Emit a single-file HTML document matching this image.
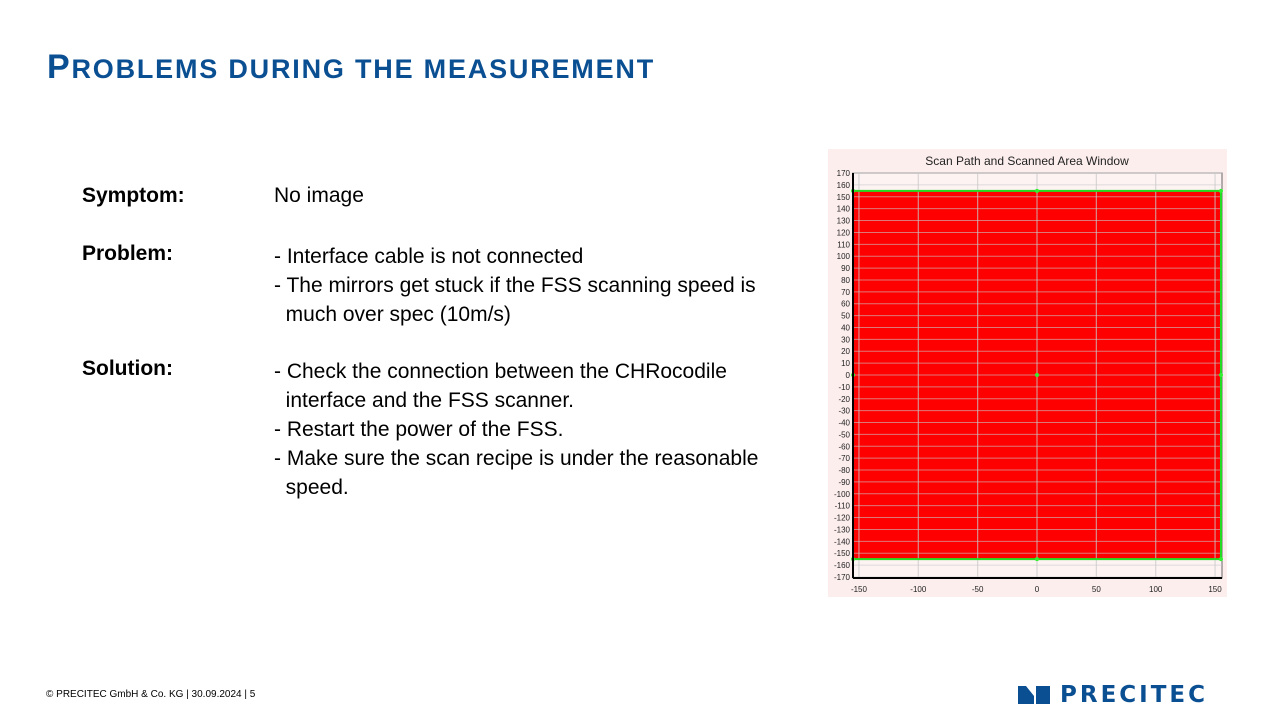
<!DOCTYPE html>
<html><head><meta charset="utf-8"><style>
body{margin:0;width:1280px;height:720px;background:#fff;position:relative;font-family:"Liberation Sans",sans-serif;overflow:hidden}
.t{position:absolute;color:#000;font-size:21px}
h1{position:absolute;left:47px;top:48px;margin:0;color:#0b4f93;font-size:34px;font-weight:bold;letter-spacing:1.8px;white-space:nowrap}
h1 small{font-size:27px}
</style></head><body>
<h1>P<small>ROBLEMS DURING THE MEASUREMENT</small></h1>
<div class="t" style="left:82px;top:184px;font-weight:bold">Symptom:</div>
<div class="t" style="left:274px;top:184px">No image</div>
<div class="t" style="left:82px;top:242px;font-weight:bold">Problem:</div>
<div class="t" style="left:274px;top:242px;line-height:29px">- Interface cable is not connected<br>- The mirrors get stuck if the FSS scanning speed is<br>&nbsp;&nbsp;much over spec (10m/s)</div>
<div class="t" style="left:82px;top:357px;font-weight:bold">Solution:</div>
<div class="t" style="left:274px;top:357px;line-height:29px;white-space:nowrap">- Check the connection between the CHRocodile<br>&nbsp;&nbsp;interface and the FSS scanner.<br>- Restart the power of the FSS.<br>- Make sure the scan recipe is under the reasonable<br>&nbsp;&nbsp;speed.</div>
<svg id="ch" style="position:absolute;left:828px;top:149px" width="399" height="448"></svg>
<div style="position:absolute;left:46px;top:689px;font-size:10px;color:#000">© PRECITEC GmbH &amp; Co. KG | 30.09.2024 | 5</div>
<div style="position:absolute;left:1018px;top:682px;display:flex;align-items:center">
<svg width="32" height="18"><path d="M0 0H8L16 10L16 18H0Z M18 0H32V18H18Z" fill="#0b4f93"/></svg>
<span style="font-size:23px;font-weight:900;color:#0b4f93;margin-left:10px;letter-spacing:3px;font-family:'DejaVu Sans',sans-serif">PRECITEC</span></div>
<script>
const xTicks=[-150,-100,-50,0,50,100,150];
const yTicks=[170,160,150,140,130,120,110,100,90,80,70,60,50,40,30,20,10,0,-10,-20,-30,-40,-50,-60,-70,-80,-90,-100,-110,-120,-130,-140,-150,-160,-170];
const areaX=[-155,155];
const areaY=[-155,155];
const pathPts=[[-155,155],[0,155],[155,155],[155,0],[155,-155],[0,-155],[-155,-155],[-155,0],[0,0]];
const NS="http://www.w3.org/2000/svg";
const svg=document.getElementById('ch');
const X=v=>209+v*1.187, Y=v=>226-v*1.188;
function el(t,a,p){const e=document.createElementNS(NS,t);for(const k in a)e.setAttribute(k,a[k]);(p||svg).appendChild(e);return e;}
const bg=el('rect',{x:0,y:0,width:399,height:448,fill:'#fdeeee'});


const ttl=el('text',{x:199,y:16,'text-anchor':'middle','font-size':12,fill:'#222','font-family':'Liberation Sans'});
ttl.textContent='Scan Path and Scanned Area Window';


const pa=el('rect',{x:25,y:24,width:369,height:405,fill:'#fdf3f3',stroke:'#666'});


const area=el('rect',{x:X(areaX[0]),y:Y(areaY[1]),width:X(areaX[1])-X(areaX[0]),height:Y(areaY[0])-Y(areaY[1]),fill:'#ff0000'});


yTicks.forEach(v=>{const l=el('line',{x1:25,x2:394,y1:Y(v),y2:Y(v),stroke:'rgba(200,200,200,0.6)','stroke-width':1});


const t=el('text',{x:22,y:Y(v)+3,'text-anchor':'end','font-size':8,fill:'#222'});t.textContent=v;

});
xTicks.forEach(v=>{const l=el('line',{x1:X(v),x2:X(v),y1:24,y2:429,stroke:'rgba(200,200,200,0.7)','stroke-width':1.2});


const t=el('text',{x:X(v),y:443,'text-anchor':'middle','font-size':8,fill:'#222'});t.textContent=v;

});
const pl=el('polyline',{points:pathPts.slice(0,7).map(p=>X(p[0])+','+Y(p[1])).join(' '),fill:'none',stroke:'#22dd22','stroke-width':2});


pathPts.forEach(p=>{const c=el('circle',{cx:X(p[0]),cy:Y(p[1]),r:2,fill:'#33ee33'});

});
el('line',{x1:25,x2:25,y1:24,y2:429,stroke:'#000','stroke-width':2});
el('line',{x1:25,x2:394,y1:429,y2:429,stroke:'#000','stroke-width':2});
</script>
</body></html>
